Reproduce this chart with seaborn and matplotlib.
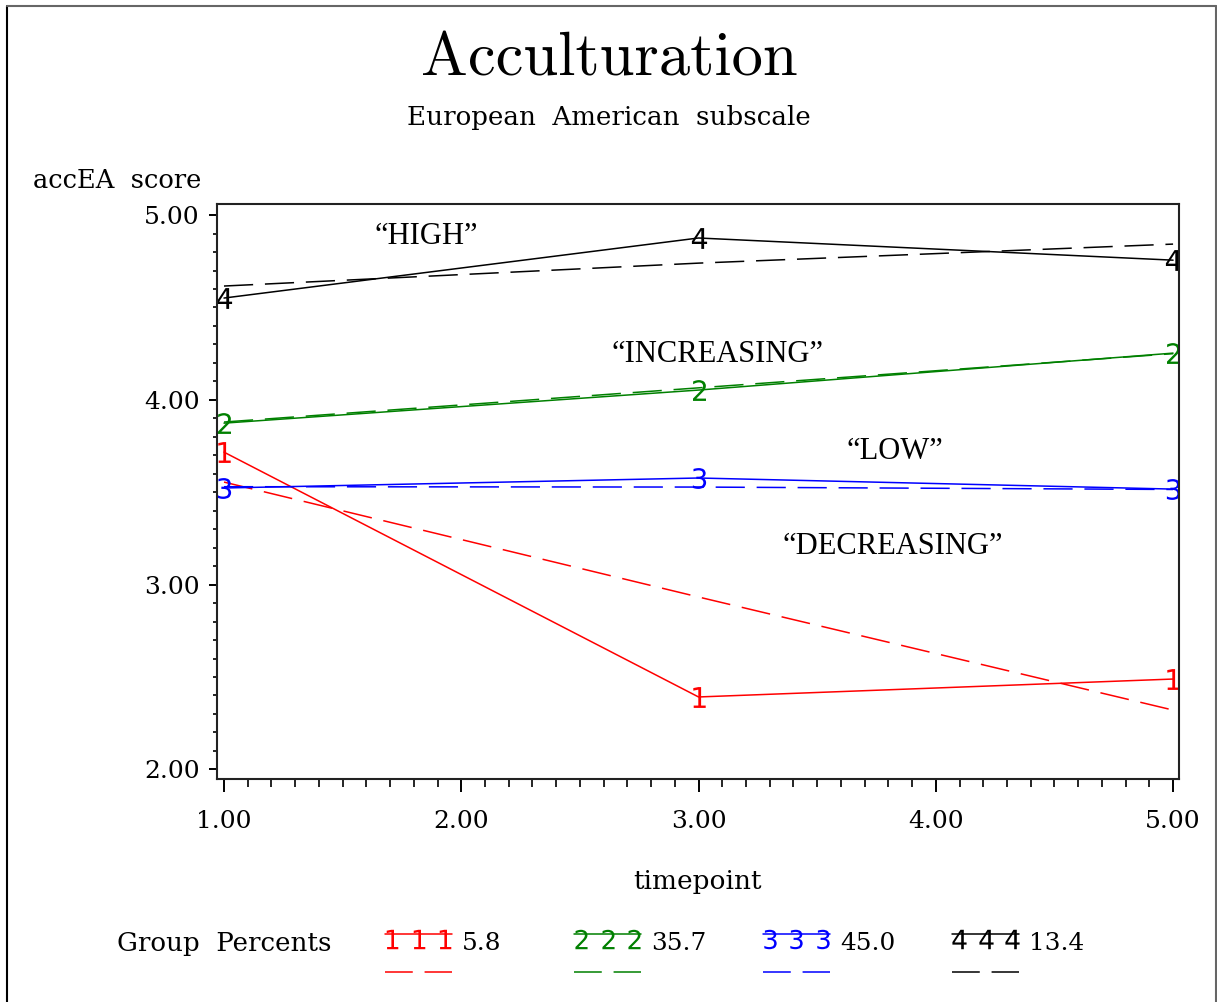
import matplotlib
matplotlib.use("Agg")
import matplotlib.pyplot as plt
import seaborn as sns
import numpy as np
from matplotlib.lines import Line2D
from matplotlib.ticker import MultipleLocator, FixedLocator, FixedFormatter

# ---------------- data ----------------
timepoints = [1, 3, 5]
group_labels = ["5.8", "35.7", "45.0", "13.4"]
group_markers = ["1", "2", "3", "4"]
group_colors = ["#FF0000", "#008000", "#0000FF", "#000000"]

obs_decreasing = [3.717, 2.392, 2.489]
obs_increasing = [3.874, 4.053, 4.253]
obs_low = [3.523, 3.577, 3.517]
obs_high = [4.551, 4.876, 4.756]

pred_decreasing = [3.555, 2.933, 2.321]
pred_increasing = [3.880, 4.065, 4.250]
pred_low = [3.530, 3.528, 3.515]
pred_high = [4.616, 4.740, 4.843]

observed = [obs_decreasing, obs_increasing, obs_low, obs_high]
predicted = [pred_decreasing, pred_increasing, pred_low, pred_high]

xtick_values = [1, 2, 3, 4, 5]
xtick_labels = ["1.00", "2.00", "3.00", "4.00", "5.00"]
ytick_values = [2, 3, 4, 5]
ytick_labels = ["2.00", "3.00", "4.00", "5.00"]

annot_texts = ["\u201cHIGH\u201d", "\u201cINCREASING\u201d", "\u201cLOW\u201d", "\u201cDECREASING\u201d"]
annot_x = [1.851, 3.082, 3.828, 3.820]
annot_y = [4.886, 4.248, 3.723, 3.209]

title = "Acculturation"
subtitle = "European  American  subscale"
ylabel = "accEA  score"
xlabel = "timepoint"
legend_title = "Group  Percents"

# ---------------- style ----------------
sns.set_style("ticks")
plt.rcParams["font.family"] = ["DejaVu Serif"]
plt.rcParams["mathtext.fontset"] = "dejavusans"
plt.rcParams["lines.scale_dashes"] = False
for k in ["text.color", "axes.labelcolor", "xtick.color", "ytick.color", "axes.edgecolor"]:
    plt.rcParams[k] = "black"

W, H = 1217, 1002
fig = plt.figure(figsize=(W / 100, H / 100), dpi=100)
fig.patch.set_facecolor("white")
ax = fig.add_axes([217 / W, 1 - 779 / H, (1179 - 217) / W, (779 - 204) / H])
ax.set_facecolor("white")

dash = (0, (21, 8.5))
lw = 1.1
for vals_o, vals_p, c, m in zip(observed, predicted, group_colors, group_markers):
    sns.lineplot(x=timepoints, y=vals_o, color=c, linewidth=lw, marker=f"${m}$",
                 markersize=15, markeredgewidth=0, markeredgecolor=c,
                 markerfacecolor=c, ax=ax, legend=False)
    sns.lineplot(x=timepoints, y=vals_p, color=c, linewidth=lw, linestyle=dash,
                 ax=ax, legend=False)

ax.set_xlim(0.9705, 5.025)
ax.set_ylim(1.948, 5.06)

ax.xaxis.set_major_locator(FixedLocator(xtick_values))
ax.xaxis.set_major_formatter(FixedFormatter(xtick_labels))
ax.yaxis.set_major_locator(FixedLocator(ytick_values))
ax.yaxis.set_major_formatter(FixedFormatter(ytick_labels))
ax.xaxis.set_minor_locator(MultipleLocator(0.1))
ax.yaxis.set_minor_locator(MultipleLocator(0.1))

ax.tick_params(axis="x", which="major", length=9.5, width=1.4, pad=13, labelsize=18, direction="out")
ax.tick_params(axis="x", which="minor", length=6, width=1.2, direction="out")
ax.tick_params(axis="y", which="major", length=5.5, width=1.4, pad=7, labelsize=18, direction="out")
ax.tick_params(axis="y", which="minor", length=3, width=1.2, direction="out")
for sp in ax.spines.values():
    sp.set_visible(True)
    sp.set_linewidth(1.5)
    sp.set_color("#222222")

ax.set_xlabel(xlabel, fontsize=19)
ax.xaxis.set_label_coords(0.499, -0.179)
ax.xaxis.label.set_verticalalignment("center")
ax.set_ylabel(ylabel, fontsize=18.5, rotation=0, ha="left", va="baseline")
ax.yaxis.set_label_coords(-0.1913, 1.028)

for t, x, y in zip(annot_texts, annot_x, annot_y):
    ax.text(x, y, t, ha="center", va="center", fontsize=22,
            family=["Liberation Serif", "DejaVu Serif"])

fig.text(0.5004, 1 - 75 / H, title, ha="center", va="baseline", fontsize=45,
         family=["cmr10", "DejaVu Serif"])
fig.text(0.5004, 1 - 125 / H, subtitle, ha="center", va="baseline", fontsize=18.8)

# ---------------- legend ----------------
fig.text(117 / W, 1 - 943 / H, legend_title, ha="left", va="center", fontsize=18.8)
for i, (c, m, lab) in enumerate(zip(group_colors, group_markers, group_labels)):
    x0 = 385 + 189 * i
    L = 67
    xs = np.array([x0, x0 + L]) / W
    fig.add_artist(Line2D(xs, np.full(2, 1 - 934 / H), color=c, linewidth=lw,
                          transform=fig.transFigure))
    mx = np.array([x0 + 0.1 * L, x0 + 0.5 * L, x0 + 0.9 * L]) / W
    fig.add_artist(Line2D(mx, np.full(3, 1 - 939 / H), color=c, linestyle="none",
                          marker=f"${m}$", markersize=14, markeredgewidth=0,
                          transform=fig.transFigure))
    fig.add_artist(Line2D(np.array([x0, x0 + L]) / W, np.full(2, 1 - 972 / H),
                          color=c, linewidth=lw, linestyle=(0, (20, 8.5)),
                          transform=fig.transFigure))
    fig.text((x0 + L + 10) / W, 1 - 943 / H, lab, ha="left", va="center", fontsize=17.8)

# ---------------- outer frame ----------------
fig.add_artist(Line2D([7 / W, 7 / W], [-0.01, 1 - 6 / H], color="black", linewidth=1.5,
                      transform=fig.transFigure))
fig.add_artist(Line2D([7 / W, 1216 / W], [1 - 6 / H, 1 - 6 / H], color="#666666", linewidth=1.5,
                      transform=fig.transFigure))
fig.add_artist(Line2D([1216 / W, 1216 / W], [-0.01, 1 - 6 / H], color="#666666", linewidth=1.5,
                      transform=fig.transFigure))

fig.savefig("out.png", dpi=100, facecolor="white")
